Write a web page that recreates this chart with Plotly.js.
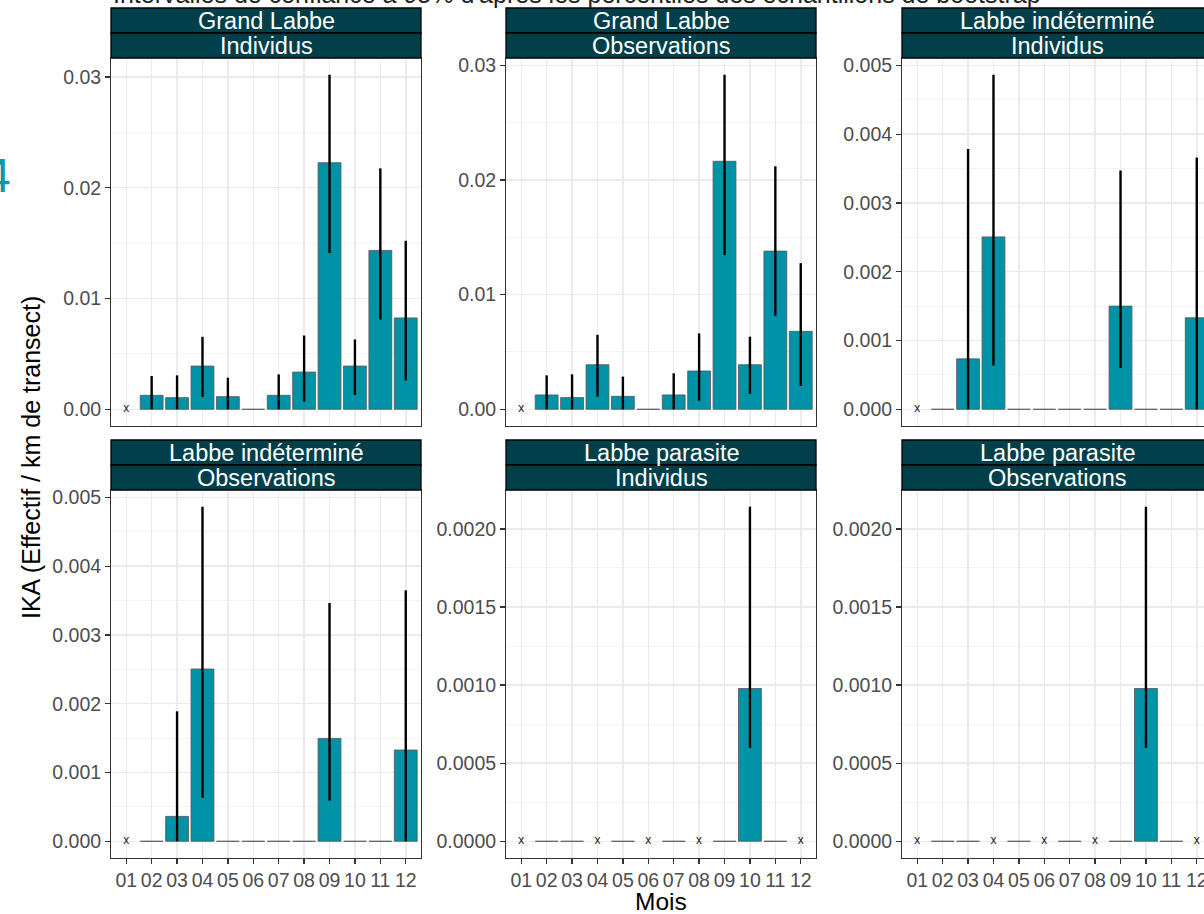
<!DOCTYPE html>
<html>
<head>
<meta charset="utf-8">
<script src="https://cdn.plot.ly/plotly-3.0.1.min.js"></script>
<style>
html,body{margin:0;padding:0;overflow:hidden;background:#fff;width:1204px;height:914px;}
#chart{position:absolute;left:0;top:0;width:1220px;height:914px;}
</style>
</head>
<body>
<div id="chart"></div>
<script>
// ---------- data ----------
const months = ['01','02','03','04','05','06','07','08','09','10','11','12'];
const stripSpecies = ['Grand Labbe','Grand Labbe','Labbe indéterminé','Labbe indéterminé','Labbe parasite','Labbe parasite'];
const stripMeasure = ['Individus','Observations','Individus','Observations','Individus','Observations'];

// null = "x" (no value), 0 = zero bar
const grandInd    = [null, 0.00126, 0.00105, 0.0039, 0.00114, 0, 0.00126, 0.00336, 0.02226, 0.0039, 0.01434, 0.00825];
const grandIndLo  = [null, 0, 0, 0.00111, 0, null, 0, 0.00069, 0.0141, 0.00129, 0.0081, 0.00261];
const grandIndHi  = [null, 0.0030, 0.00306, 0.00654, 0.00285, null, 0.00315, 0.00666, 0.0302, 0.0063, 0.02175, 0.01521];

const grandObs    = [null, 0.00125, 0.00102, 0.00389, 0.00113, 0, 0.00125, 0.00334, 0.02164, 0.00389, 0.0138, 0.0068];
const grandObsLo  = [null, 0, 0, 0.0011, 0, null, 0, 0.00073, 0.01345, 0.00134, 0.00813, 0.00203];
const grandObsHi  = [null, 0.00296, 0.00305, 0.0065, 0.00285, null, 0.00314, 0.00662, 0.02919, 0.00633, 0.0212, 0.01275];

const indetInd    = [null, 0, 0.000733, 0.002507, 0, 0, 0, 0, 0.0015, 0, 0, 0.001331];
const indetIndLo  = [null, null, 0, 0.000636, null, null, null, null, 0.000598, null, null, 0];
const indetIndHi  = [null, null, 0.003785, 0.004865, null, null, null, null, 0.003472, null, null, 0.00366];

const indetObs    = [null, 0, 0.000362, 0.002505, 0, 0, 0, 0, 0.001496, 0, 0, 0.001327];
const indetObsLo  = [null, null, 0, 0.000632, null, null, null, null, 0.000589, null, null, 0];
const indetObsHi  = [null, null, 0.00189, 0.004865, null, null, null, null, 0.003465, null, null, 0.003649];

const parasInd    = [null, 0, 0, null, 0, null, 0, null, 0, 0.000978, 0, null];
const parasIndLo  = [null, null, null, null, null, null, null, null, null, 0.000597, null, null];
const parasIndHi  = [null, null, null, null, null, null, null, null, null, 0.002142, null, null];

const parasObs    = [null, 0, 0, null, 0, null, 0, null, 0, 0.000978, 0, null];
const parasObsLo  = [null, null, null, null, null, null, null, null, null, 0.000597, null, null];
const parasObsHi  = [null, null, null, null, null, null, null, null, null, 0.002142, null, null];

const panelVals = [grandInd, grandObs, indetInd, indetObs, parasInd, parasObs];
const panelLo   = [grandIndLo, grandObsLo, indetIndLo, indetObsLo, parasIndLo, parasObsLo];
const panelHi   = [grandIndHi, grandObsHi, indetIndHi, indetObsHi, parasIndHi, parasObsHi];
const yDtick    = [0.01, 0.01, 0.001, 0.001, 0.0005, 0.0005];
const yFormat   = ['.2f', '.2f', '.3f', '.3f', '.4f', '.4f'];

// ---------- geometry (pixels) ----------
const W = 1220, H = 914;
const colX = [[111, 421], [506, 816], [902, 1212]];
const rowY = [{strip: 8, mid: 33, top: 58, bottom: 426}, {strip: 440, mid: 465, top: 490, bottom: 858}];
const px = v => v / W;
const py = v => 1 - v / H;

const BAR = '#0093A7', STRIP = '#01404A';
const xNum = months.map((m, i) => i + 1);

const data = [];
const layout = {
  width: W, height: H,
  margin: {l: 0, r: 0, t: 0, b: 0},
  paper_bgcolor: '#fff', plot_bgcolor: '#fff',
  showlegend: false, hovermode: false,
  font: {family: 'Liberation Sans, Arial, sans-serif', color: '#4D4D4D', size: 19},
  shapes: [], annotations: []
};

for (let p = 0; p < 6; p++) {
  const row = p < 3 ? 0 : 1, col = p % 3;
  const sfx = p === 0 ? '' : String(p + 1);
  const xa = 'x' + sfx, ya = 'y' + sfx;
  const vals = panelVals[p], lo = panelLo[p], hi = panelHi[p];

  // zero bars as short lines
  const zx = [], zy = [];
  vals.forEach((v, i) => { if (v === 0) { zx.push(xNum[i] - 0.45, xNum[i] + 0.45, null); zy.push(0, 0, null); } });
  data.push({type: 'scatter', mode: 'lines', x: zx, y: zy, xaxis: xa, yaxis: ya,
             line: {color: '#555', width: 1.2}, hoverinfo: 'skip'});

  // bars with error bars
  const bx = [], by = [], eUp = [], eDn = [];
  vals.forEach((v, i) => {
    if (v !== null && v > 0) {
      bx.push(xNum[i]); by.push(v);
      eUp.push(hi[i] !== null ? hi[i] - v : 0);
      eDn.push(lo[i] !== null ? v - lo[i] : 0);
    }
  });
  data.push({type: 'bar', x: bx, y: by, xaxis: xa, yaxis: ya, width: 0.9,
             marker: {color: BAR, line: {color: '#555', width: 0.8}},
             error_y: {type: 'data', symmetric: false, array: eUp, arrayminus: eDn,
                       width: 0, thickness: 2.4, color: '#000'}});

  // missing months marked with an x
  const mx = [], my = [];
  vals.forEach((v, i) => { if (v === null) { mx.push(xNum[i]); my.push(0); } });
  data.push({type: 'scatter', mode: 'text', x: mx, y: my, text: mx.map(() => 'x'),
             textfont: {size: 12, color: '#222'}, textposition: 'middle center',
             xaxis: xa, yaxis: ya, hoverinfo: 'skip'});

  // axis range from data (ggplot-like 5% expansion)
  let ymax = 0;
  vals.forEach((v, i) => { if (v !== null) ymax = Math.max(ymax, v); if (hi[i] !== null) ymax = Math.max(ymax, hi[i]); });
  const pad = ymax * 0.05;

  const g = rowY[row], c = colX[col];
  layout['xaxis' + sfx] = {
    domain: [px(c[0]), px(c[1])], anchor: ya, range: [0.4, 12.6],
    tickmode: 'array', tickvals: xNum, ticktext: months,
    showticklabels: row === 1, ticks: row === 1 ? 'outside' : '',
    ticklen: 5, tickwidth: 1.3, tickcolor: '#333',
    tickfont: {size: 19.5, color: '#4D4D4D'},
    showgrid: true, gridcolor: '#EBEBEB', gridwidth: 1.5, zeroline: false,
    showline: true, mirror: true, linecolor: '#333', linewidth: 1, fixedrange: true
  };
  layout['yaxis' + sfx] = {
    domain: [py(g.bottom), py(g.top)], anchor: xa, range: [-pad, ymax + pad],
    dtick: yDtick[p], tick0: 0, tickformat: yFormat[p],
    ticks: 'outside', ticklen: 5, tickwidth: 1.3, tickcolor: '#333',
    tickfont: {size: 19.5, color: '#4D4D4D'},
    showgrid: true, gridcolor: '#EBEBEB', gridwidth: 1.5, zeroline: false,
    minor: {showgrid: true, dtick: yDtick[p] / 2, tick0: 0, gridcolor: '#F3F3F3', gridwidth: 1, ticks: ''},
    showline: true, mirror: true, linecolor: '#333', linewidth: 1, fixedrange: true
  };

  // facet strips
  [[g.strip, g.mid, stripSpecies[p]], [g.mid, g.top, stripMeasure[p]]].forEach(s => {
    layout.shapes.push({type: 'rect', xref: 'paper', yref: 'paper',
      x0: px(c[0]), x1: px(c[1]), y0: py(s[1]), y1: py(s[0]),
      fillcolor: STRIP, line: {color: '#000', width: 1.3}, layer: 'above'});
    layout.annotations.push({xref: 'paper', yref: 'paper', x: px((c[0] + c[1]) / 2), y: py((s[0] + s[1]) / 2 + 0.5),
      text: s[2], showarrow: false, xanchor: 'center', yanchor: 'middle',
      font: {size: 23.5, color: '#fff'}});
  });
}

// titles
layout.annotations.push({xref: 'paper', yref: 'paper', x: px(111), y: py(-6), xanchor: 'left', yanchor: 'middle',
  text: "Intervalles de confiance à 95% d'après les percentiles des échantillons de bootstrap",
  showarrow: false, font: {size: 25, color: '#222'}});
layout.annotations.push({xref: 'paper', yref: 'paper', x: px(31), y: py(458), xanchor: 'center', yanchor: 'middle',
  text: 'IKA (Effectif / km de transect)', textangle: -90, showarrow: false, font: {size: 25, color: '#000'}});
layout.annotations.push({xref: 'paper', yref: 'paper', x: px(661), y: py(901), xanchor: 'center', yanchor: 'middle',
  text: 'Mois', showarrow: false, font: {size: 24.5, color: '#000'}});
layout.annotations.push({xref: 'paper', yref: 'paper', x: px(13), y: py(175), xanchor: 'right', yanchor: 'middle',
  text: '4', showarrow: false, font: {size: 48, color: '#0E97A6'}});

Plotly.newPlot('chart', data, layout, {staticPlot: true, displayModeBar: false});
</script>
</body>
</html>
